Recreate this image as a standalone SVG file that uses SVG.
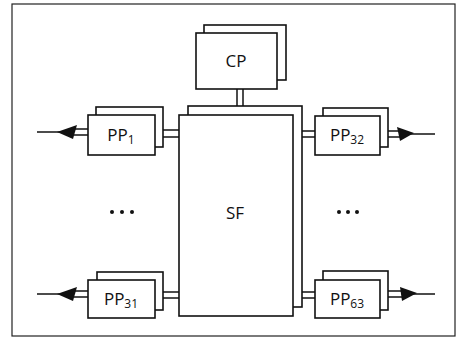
<svg xmlns="http://www.w3.org/2000/svg" width="461" height="347" viewBox="0 0 461 347">
<style>
.box{fill:#fff;stroke:#111;stroke-width:1.6}
.ln{fill:none;stroke:#111;stroke-width:1.5}
.lbl{font-family:"Open Sans","Noto Sans",sans-serif;font-size:17px;fill:#111;text-anchor:middle}
.sub{font-size:12px}
.ah{fill:#111}
</style>
<rect x="12" y="4" width="443" height="332" fill="#fff" stroke="#222" stroke-width="1.2"/>
<g id="connectors">
  <line class="ln" x1="237" y1="89" x2="237" y2="107"/>
  <line class="ln" x1="243" y1="89" x2="243" y2="107"/>
  <line class="ln" x1="163" y1="130" x2="179" y2="130"/>
  <line class="ln" x1="163" y1="137" x2="179" y2="137"/>
  <line class="ln" x1="302" y1="131" x2="315" y2="131"/>
  <line class="ln" x1="302" y1="137" x2="315" y2="137"/>
  <line class="ln" x1="163" y1="292" x2="179" y2="292"/>
  <line class="ln" x1="163" y1="298" x2="179" y2="298"/>
  <line class="ln" x1="302" y1="292" x2="315" y2="292"/>
  <line class="ln" x1="302" y1="298" x2="315" y2="298"/>
  <line class="ln" x1="74" y1="129" x2="88" y2="129"/>
  <line class="ln" x1="74" y1="135" x2="88" y2="135"/>
  <line class="ln" x1="37" y1="132" x2="60" y2="132"/>
  <polygon class="ah" points="57,132 77,125 73,139"/>
  <line class="ln" x1="74" y1="291" x2="88" y2="291"/>
  <line class="ln" x1="74" y1="297" x2="88" y2="297"/>
  <line class="ln" x1="37" y1="294" x2="60" y2="294"/>
  <polygon class="ah" points="57,294 77,287 73,301"/>
  <line class="ln" x1="388" y1="131" x2="402" y2="131"/>
  <line class="ln" x1="388" y1="137" x2="402" y2="137"/>
  <line class="ln" x1="410" y1="134" x2="435" y2="134"/>
  <polygon class="ah" points="414,133 397,127 400,141"/>
  <line class="ln" x1="388" y1="291" x2="402" y2="291"/>
  <line class="ln" x1="388" y1="297" x2="402" y2="297"/>
  <line class="ln" x1="413" y1="294" x2="435" y2="294"/>
  <polygon class="ah" points="417,293 400,287 402,301"/>
</g>
<g id="CP">
  <rect class="box" x="204" y="25" width="82" height="55"/>
  <rect class="box" x="196" y="33" width="81" height="56"/>
  <text class="lbl" x="236" y="67">CP</text>
</g>
<g id="SF">
  <rect class="box" x="188" y="106" width="114" height="201"/>
  <rect class="box" x="179" y="115" width="114" height="201"/>
  <text class="lbl" x="235" y="219">SF</text>
</g>
<g id="PP1">
  <rect class="box" x="96" y="107" width="67" height="40"/>
  <rect class="box" x="88" y="115" width="67" height="40"/>
  <text class="lbl" x="121" y="141">PP<tspan class="sub" dy="3">1</tspan></text>
</g>
<g id="PP32">
  <rect class="box" x="323" y="108" width="65" height="39"/>
  <rect class="box" x="315" y="116" width="65" height="39"/>
  <text class="lbl" x="347" y="141">PP<tspan class="sub" dy="3">32</tspan></text>
</g>
<g id="PP31">
  <rect class="box" x="97" y="272" width="66" height="38"/>
  <rect class="box" x="88" y="280" width="67" height="38"/>
  <text class="lbl" x="121" y="305">PP<tspan class="sub" dy="3">31</tspan></text>
</g>
<g id="PP63">
  <rect class="box" x="323" y="271" width="65" height="39"/>
  <rect class="box" x="315" y="280" width="65" height="38"/>
  <text class="lbl" x="347" y="305">PP<tspan class="sub" dy="3">63</tspan></text>
</g>
<g id="dots">
  <circle cx="112" cy="212" r="2" fill="#111"/>
  <circle cx="122" cy="212" r="2" fill="#111"/>
  <circle cx="132" cy="212" r="2" fill="#111"/>
  <circle cx="339" cy="212" r="2" fill="#111"/>
  <circle cx="348" cy="212" r="2" fill="#111"/>
  <circle cx="357" cy="212" r="2" fill="#111"/>
</g>
</svg>
